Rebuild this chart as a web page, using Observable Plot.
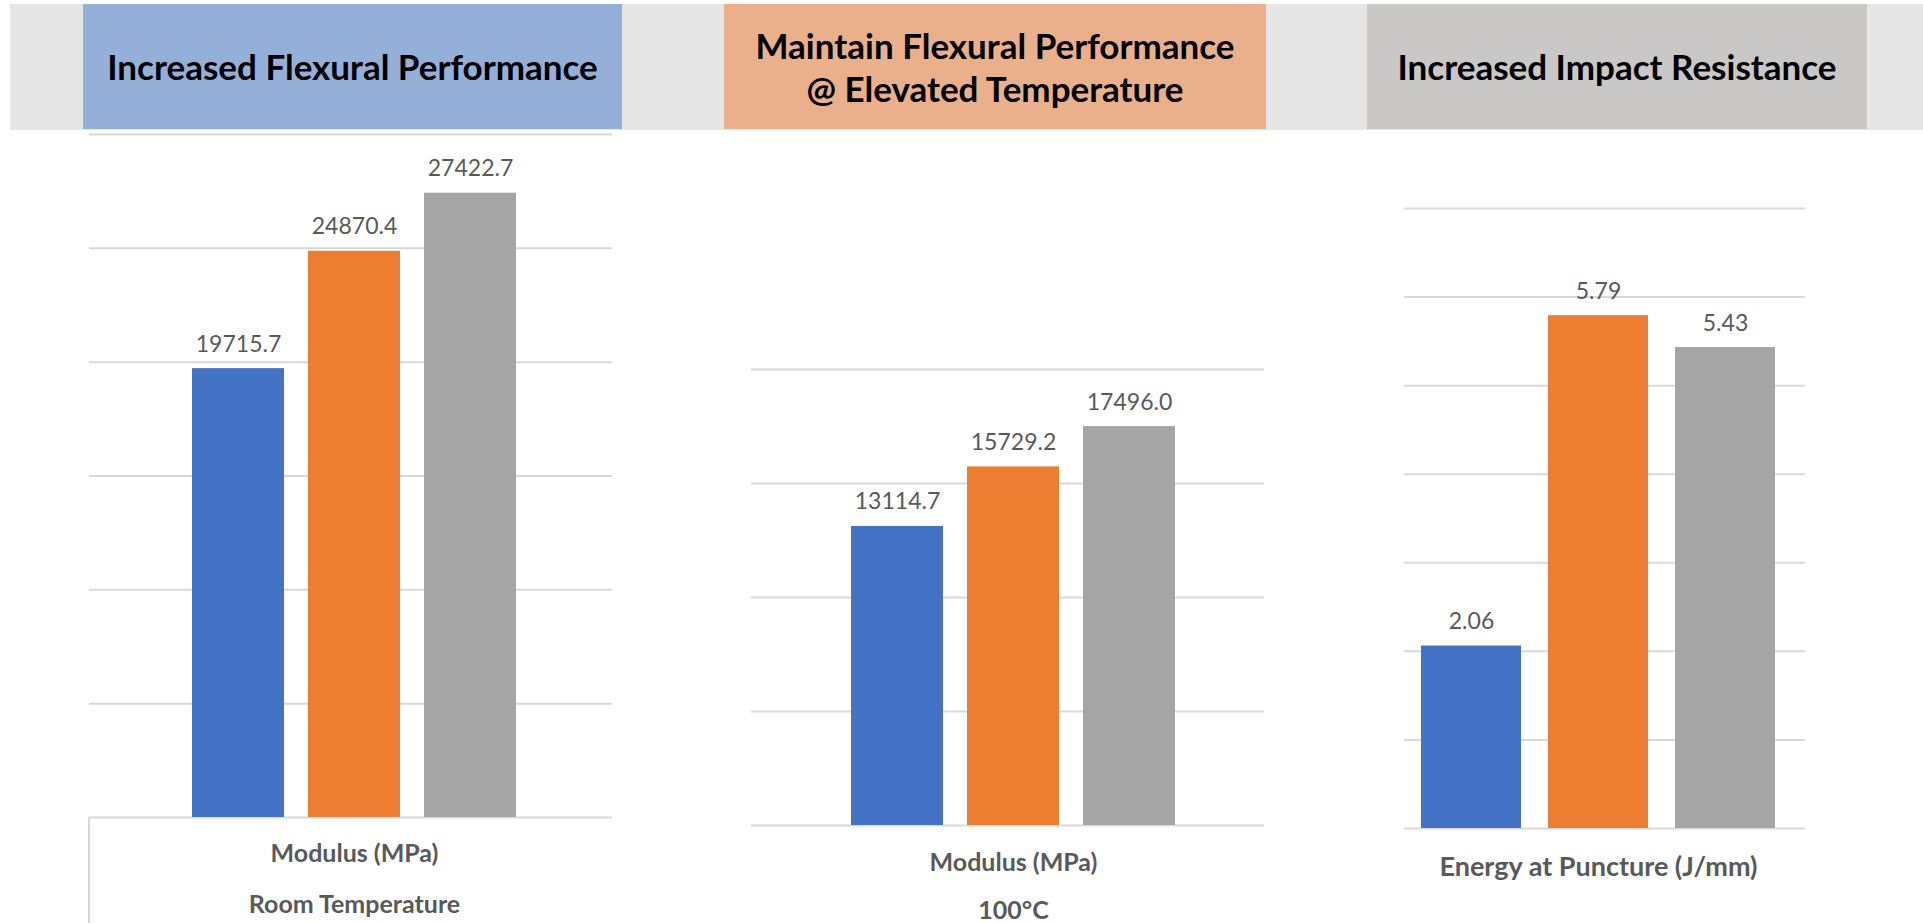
<!DOCTYPE html>
<html>
<head>
<meta charset="utf-8">
<script src="https://cdn.jsdelivr.net/npm/d3@7"></script>
<script src="https://cdn.jsdelivr.net/npm/@observablehq/plot@0.6"></script>
<style>
  html, body { margin: 0; padding: 0; background: #fff; }
  #page { position: relative; width: 1923px; height: 923px; overflow: hidden; font-family: Lato, "Noto Sans", sans-serif; }
  .band { position: absolute; left: 10px; top: 4px; width: 1913px; height: 126px; background: #e6e6e6; }
  .head { position: absolute; top: 4px; height: 125px; display: flex; align-items: center; justify-content: center;
          text-align: center; font-weight: 700; font-size: 35px; line-height: 43px; color: #000; }
  .panel { position: absolute; top: 130px; }
  .panel text { font-variant-numeric: tabular-nums; }
</style>
</head>
<body>
<div id="page"><div class="band"></div></div>
<script>
// Three sample materials, shown in the same order in every panel
const series = ["Material A", "Material B", "Material C"];
const seriesColors = ["#4472C4", "#ED7D31", "#A5A5A5"];

// Measured values
const modulusRoomTemp = [19715.7, 24870.4, 27422.7];
const modulus100C = [13114.7, 15729.2, 17496.0];
const energyAtPuncture = [2.06, 5.79, 5.43];

// Gridline values for each panel
const gridRoomTemp = [0, 5000, 10000, 15000, 20000, 25000, 30000];
const grid100C = [0, 5000, 10000, 15000, 20000];
const gridPuncture = [0, 1, 2, 3, 4, 5, 6, 7];

// Header banners and category labels
const headerTitles = [
  "Increased Flexural Performance",
  "Maintain Flexural Performance<br>@ Elevated Temperature",
  "Increased Impact Resistance"
];
const headerColors = ["#95B0D8", "#EAB08B", "#C9C8C6"];
const categoryLabels = [
  ["Modulus (MPa)", "Room Temperature"],
  ["Modulus (MPa)", "100°C"],
  ["Energy at Puncture (J/mm)"]
];

const panels = [
  { values: modulusRoomTemp, grid: gridRoomTemp, digits: 1, left: 69, width: 563,
    marginTop: 4, marginBottom: 106, xRange: [122, 448], labelDy: [36, 87], labelSize: 25, categoryTick: true,
    head: { left: 83, width: 539 } },
  { values: modulus100C, grid: grid100C, digits: 1, left: 731, width: 553,
    marginTop: 239, marginBottom: 98, xRange: [119, 444], labelDy: [37, 85], labelSize: 25, categoryTick: false,
    head: { left: 724, width: 542 } },
  { values: energyAtPuncture, grid: gridPuncture, digits: 2, left: 1384, width: 441,
    marginTop: 78, marginBottom: 95, xRange: [36, 393], labelDy: [39], labelSize: 27, categoryTick: false,
    head: { left: 1367, width: 500 } }
];

const page = document.getElementById("page");
const svgHeight = 793;

panels.forEach((p, i) => {
  // banner above the chart
  const head = document.createElement("div");
  head.className = "head";
  head.style.left = p.head.left + "px";
  head.style.width = p.head.width + "px";
  head.style.background = headerColors[i];
  head.innerHTML = headerTitles[i];
  page.appendChild(head);

  const rows = series.map((s, k) => ({ series: s, value: p.values[k] }));
  const lines = categoryLabels[i];

  const chart = Plot.plot({
    width: p.width,
    height: svgHeight,
    marginLeft: 20,
    marginRight: 20,
    marginTop: p.marginTop,
    marginBottom: p.marginBottom,
    style: { fontFamily: "Lato, 'Noto Sans', sans-serif", background: "transparent", overflow: "visible" },
    x: { type: "band", domain: series, range: p.xRange, paddingInner: 0.21, paddingOuter: 0, axis: null },
    y: { domain: [0, p.grid[p.grid.length - 1]], axis: null },
    color: { domain: series, range: seriesColors },
    marks: [
      Plot.ruleY(p.grid, { stroke: "#d9d9d9", strokeWidth: 2 }),
      Plot.barY(rows, { x: "series", y: "value", fill: "series" }),
      Plot.text(rows, {
        x: "series", y: "value", text: d => d.value.toFixed(p.digits),
        lineAnchor: "bottom", dy: -17, fontSize: 23, fill: "#595959"
      }),
      ...lines.map((line, j) => Plot.text([line], {
        x: () => series[1], frameAnchor: "bottom", lineAnchor: "middle",
        dy: p.labelDy[j], text: d => d, fontSize: p.labelSize, fontWeight: 700, fill: "#595959"
      }))
    ]
  });

  if (p.categoryTick) {
    // left edge of the category label area, below the baseline
    d3.select(chart).append("line")
      .attr("x1", 20).attr("x2", 20)
      .attr("y1", svgHeight - p.marginBottom).attr("y2", svgHeight)
      .attr("stroke", "#d9d9d9").attr("stroke-width", 2);
  }

  const holder = document.createElement("div");
  holder.className = "panel";
  holder.style.left = p.left + "px";
  holder.appendChild(chart);
  page.appendChild(holder);
});
</script>
</body>
</html>
